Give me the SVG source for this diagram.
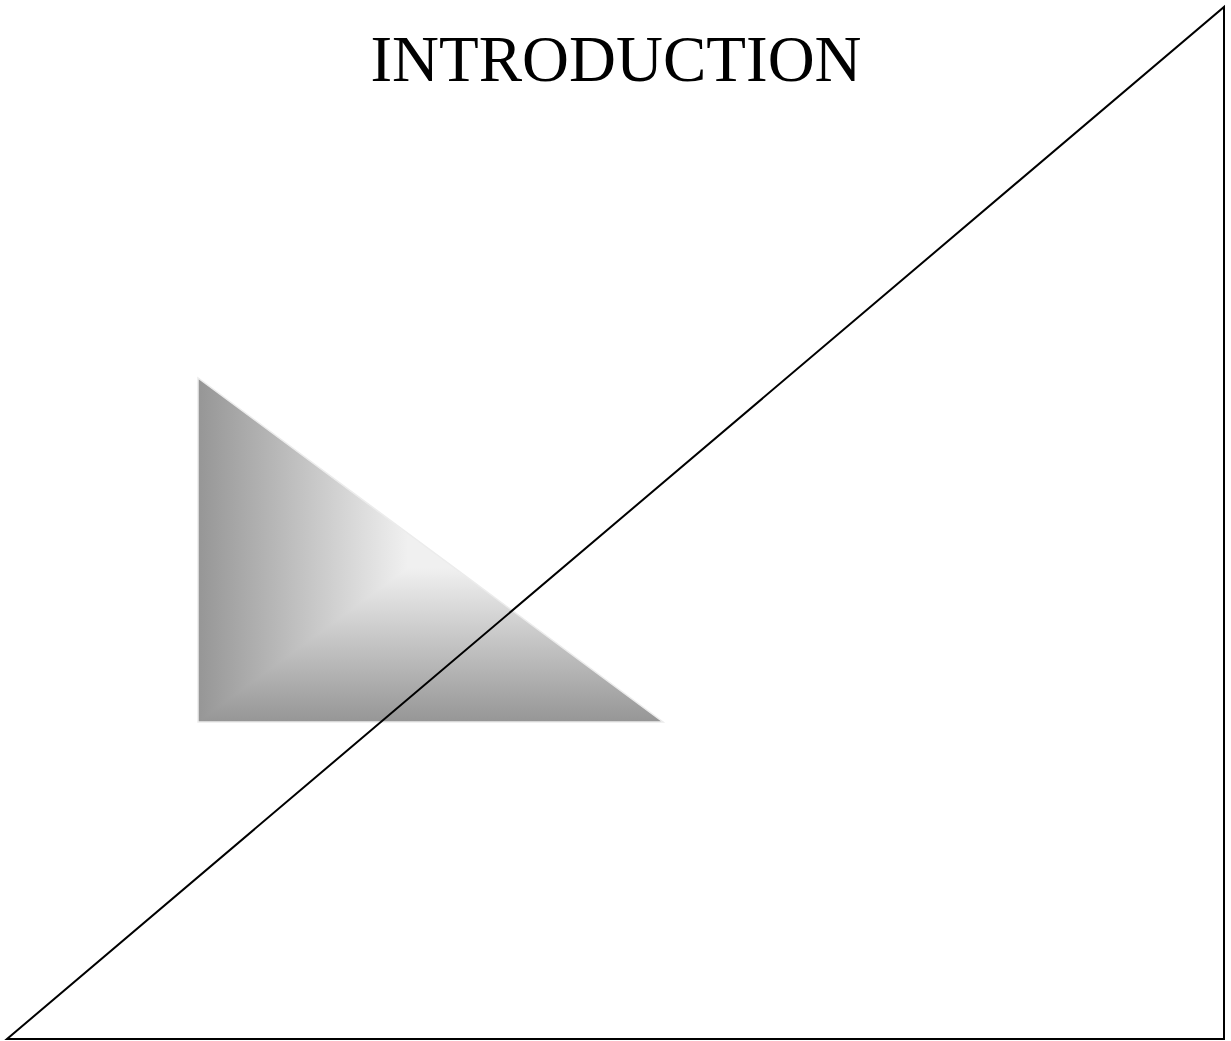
<svg xmlns="http://www.w3.org/2000/svg" width="1231" height="1041" viewBox="0 0 1231 1041">
  <style>
    .title { font-family: "Liberation Serif", "Times New Roman", serif; font-size: 65px; fill: #000; }
    .outline { fill: none; stroke: #000; stroke-width: 2; }
  </style>
  <defs>
    <linearGradient id="gl" gradientUnits="userSpaceOnUse" x1="198" y1="0" x2="408" y2="0">
      <stop offset="0" stop-color="#969696"/>
      <stop offset="1" stop-color="#f0f0f0"/>
    </linearGradient>
    <linearGradient id="gb" gradientUnits="userSpaceOnUse" x1="0" y1="722" x2="0" y2="568">
      <stop offset="0" stop-color="#969696"/>
      <stop offset="1" stop-color="#f0f0f0"/>
    </linearGradient>
  </defs>
  <rect width="1231" height="1041" fill="#fff"/>
  <g id="title">
    <text class="title" x="616" y="81" text-anchor="middle">INTRODUCTION</text>
  </g>
  <g id="shaded-triangle">
    <polygon points="198,378 198,722 663,722" fill="url(#gb)"/>
    <polygon points="198,378 198,722 431,551" fill="url(#gl)"/>
    <polygon points="198,378 198,722 663,722" fill="none" stroke="#ececec" stroke-width="1.5"/>
  </g>
  <g id="large-triangle">
    <polygon class="outline" points="7,1039 1224,1039 1224,7"/>
  </g>
</svg>
